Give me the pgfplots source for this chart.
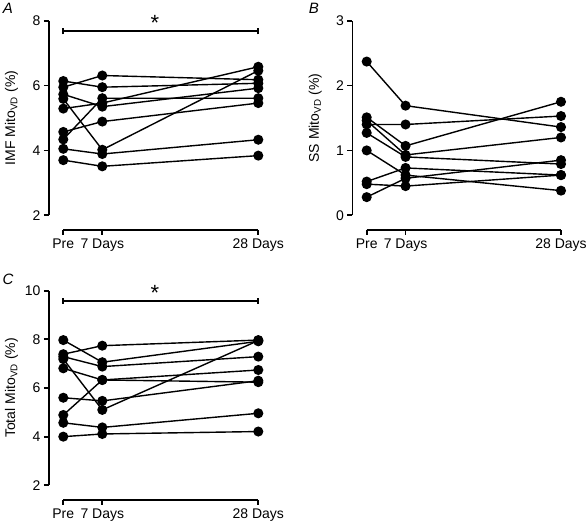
\documentclass[border=0pt]{standalone}
\usepackage{pgfplots}
\pgfplotsset{compat=1.18}
\usepackage{fontspec}
\setmainfont{Liberation Sans}
\begin{document}
\begin{tikzpicture}
\useasboundingbox (0pt,0pt) rectangle (587pt,527pt);
\pgfplotsset{
  panel/.style={
    scale only axis, width=195pt, height=194.6pt,
    xmin=0, xmax=5,
    axis lines=left,
    axis line style={-, line width=1.8pt},
    every inner x axis line/.append style={-},
    every inner y axis line/.append style={-},
    axis x line shift=14.7pt,
    axis y line shift=14.3pt,
    tick align=outside, major tick length=5pt,
    tick style={line width=1.8pt, black},
    xtick={0,1,5}, xticklabels={Pre,7 Days,28 Days},
    clip=false,
    font=\fontsize{14}{16}\selectfont,
    /pgf/number format/assume math mode=true,
    ticklabel style={font=\fontsize{14}{16}\selectfont},
    every axis y label/.style={at={(axis description cs:-0.265,0.5)}, rotate=90, anchor=center},
    cycle list={black,solid,line width=1.4pt,mark=*,mark size=4.3pt,mark options={solid,fill=black}\\},
  }
}
% Panel A
\begin{axis}[panel, at={(63.3pt,311.7pt)}, anchor=south west,
  ymin=2, ymax=8, ytick={2,4,6,8},
  ylabel={IMF Mito\textsubscript{VD} (\%)}]
\addplot coordinates {(0,6.14) (1,5.95) (5,6.07)};
\addplot coordinates {(0,5.95) (1,6.31) (5,6.18)};
\addplot coordinates {(0,5.73) (1,5.35) (5,5.92)};
\addplot coordinates {(0,5.59) (1,4.02) (5,6.46)};
\addplot coordinates {(0,5.29) (1,5.46) (5,6.58)};
\addplot coordinates {(0,4.34) (1,5.61) (5,5.61)};
\addplot coordinates {(0,4.57) (1,4.89) (5,5.46)};
\addplot coordinates {(0,4.05) (1,3.89) (5,4.33)};
\addplot coordinates {(0,3.70) (1,3.51) (5,3.84)};
\addplot[black, line width=1.8pt, mark=none] coordinates {(0,7.68) (5,7.68)};
\draw[line width=1.8pt] (axis cs:0,7.58) -- (axis cs:0,7.78);
\draw[line width=1.8pt] (axis cs:5,7.58) -- (axis cs:5,7.78);
\node[anchor=north, inner sep=0pt, font=\fontsize{22}{24}\selectfont] at (axis cs:2.35,8.18) {*};
\end{axis}
% Panel B
\begin{axis}[panel, at={(366.7pt,311.7pt)}, anchor=south west,
  width=194.3pt,
  ymin=0, ymax=3, ytick={0,1,2,3},
  ylabel={SS Mito\textsubscript{VD} (\%)}]
\addplot coordinates {(0,2.37) (1,1.69) (5,1.36)};
\addplot coordinates {(0,1.40) (1,1.40) (5,1.53)};
\addplot coordinates {(0,1.51) (1,1.07) (5,1.75)};
\addplot coordinates {(0,1.46) (1,0.93) (5,1.20)};
\addplot coordinates {(0,1.27) (1,0.90) (5,0.79)};
\addplot coordinates {(0,1.00) (1,0.62) (5,0.38)};
\addplot coordinates {(0,0.52) (1,0.73) (5,0.62)};
\addplot coordinates {(0,0.28) (1,0.57) (5,0.85)};
\addplot coordinates {(0,0.48) (1,0.45) (5,0.62)};
\end{axis}
% Panel C
\begin{axis}[panel, at={(63.3pt,41.7pt)}, anchor=south west,
  ymin=2, ymax=10, ytick={2,4,6,8,10},
  ylabel={Total Mito\textsubscript{VD} (\%)}]
\addplot coordinates {(0,7.97) (1,7.06) (5,7.92)};
\addplot coordinates {(0,7.39) (1,7.74) (5,7.97)};
\addplot coordinates {(0,7.29) (1,6.88) (5,7.29)};
\addplot coordinates {(0,7.19) (1,5.10) (5,7.95)};
\addplot coordinates {(0,6.81) (1,6.33) (5,6.24)};
\addplot coordinates {(0,4.89) (1,6.33) (5,6.74)};
\addplot coordinates {(0,5.60) (1,5.47) (5,6.30)};
\addplot coordinates {(0,4.57) (1,4.38) (5,4.96)};
\addplot coordinates {(0,4.00) (1,4.11) (5,4.21)};
\addplot[black, line width=1.8pt, mark=none] coordinates {(0,9.59) (5,9.59)};
\draw[line width=1.8pt] (axis cs:0,9.46) -- (axis cs:0,9.72);
\draw[line width=1.8pt] (axis cs:5,9.46) -- (axis cs:5,9.72);
\node[anchor=north, inner sep=0pt, font=\fontsize{22}{24}\selectfont] at (axis cs:2.35,10.23) {*};
\end{axis}
\node[font=\fontsize{15}{17}\selectfont\itshape] at (8pt,518.5pt) {A};
\node[font=\fontsize{15}{17}\selectfont\itshape] at (314pt,518.5pt) {B};
\node[font=\fontsize{15}{17}\selectfont\itshape] at (8pt,248pt) {C};
\end{tikzpicture}
\end{document}
